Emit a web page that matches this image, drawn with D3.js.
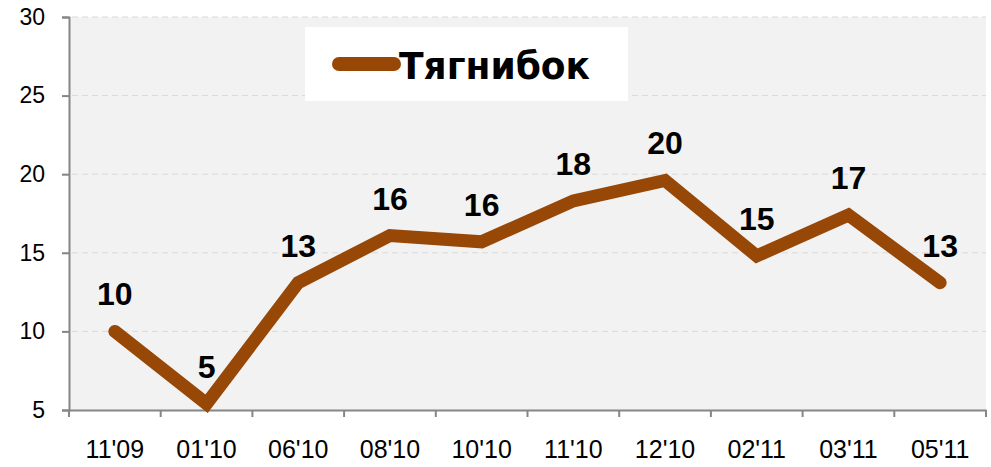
<!DOCTYPE html>
<html>
<head>
<meta charset="utf-8">
<script src="https://cdn.jsdelivr.net/npm/d3@7"></script>
<style>
  body { margin: 0; background: #fff; }
  svg { display: block; font-family: "Liberation Sans", Arial, sans-serif; }
</style>
</head>
<body>
<div id="chart"></div>
<script>
const categories = ["11'09", "01'10", "06'10", "08'10", "10'10", "11'10", "12'10", "02'11", "03'11", "05'11"];
const values = [10, 5.4, 13.1, 16.1, 15.7, 18.3, 19.6, 14.8, 17.4, 13.1];
const labels = ["10", "5", "13", "16", "16", "18", "20", "15", "17", "13"];
const yTicks = [5, 10, 15, 20, 25, 30];
const seriesName = "Тягнибок";

const width = 991, height = 467;
const plot = { left: 69, right: 986, top: 17, bottom: 410 };
const lineColor = "#974706";

const svg = d3.select("#chart").append("svg")
    .attr("width", width)
    .attr("height", height);

const x = d3.scaleBand().domain(categories).range([plot.left, plot.right]);
const y = d3.scaleLinear().domain([5, 30]).range([plot.bottom, plot.top]);

// plot background
svg.append("rect")
    .attr("x", plot.left).attr("y", plot.top)
    .attr("width", plot.right - plot.left).attr("height", plot.bottom - plot.top)
    .attr("fill", "#f2f2f2");

// gridlines
svg.append("g")
    .selectAll("line")
    .data(yTicks.filter(d => d > 5))
    .enter().append("line")
    .attr("x1", plot.left - 7).attr("x2", plot.right)
    .attr("y1", d => y(d)).attr("y2", d => y(d))
    .attr("stroke", "#d9d9d9")
    .attr("stroke-width", 1)
    .attr("stroke-dasharray", "6,4");

// y axis
const yAxis = svg.append("g")
    .attr("transform", `translate(${plot.left},0)`)
    .call(d3.axisLeft(y).tickValues(yTicks).tickSize(7).tickPadding(17));
yAxis.attr("font-size", 23).attr("font-family", "Liberation Sans, Arial, sans-serif");
yAxis.select(".domain").attr("stroke", "#868686").attr("stroke-width", 2);
yAxis.selectAll(".tick line").attr("stroke", "#868686").attr("stroke-width", 2);
yAxis.selectAll("text").attr("fill", "#000");

// x axis
const xAxis = svg.append("g")
    .attr("transform", `translate(0,${plot.bottom})`)
    .call(d3.axisBottom(x).tickSize(0).tickPadding(30));
xAxis.attr("font-size", 25).attr("font-family", "Liberation Sans, Arial, sans-serif");
xAxis.select(".domain").attr("stroke", "#868686").attr("stroke-width", 2);
xAxis.selectAll("text").attr("fill", "#000");
xAxis.selectAll(".sep")
    .data(categories.concat([null]))
    .enter().append("line")
    .attr("class", "sep")
    .attr("x1", (d, i) => plot.left + i * x.step())
    .attr("x2", (d, i) => plot.left + i * x.step())
    .attr("y1", 0).attr("y2", 7)
    .attr("stroke", "#868686").attr("stroke-width", 2);

// line
const line = d3.line()
    .x((d, i) => x(categories[i]) + x.bandwidth() / 2)
    .y(d => y(d));

svg.append("path")
    .datum(values)
    .attr("d", line)
    .attr("fill", "none")
    .attr("stroke", lineColor)
    .attr("stroke-width", 13)
    .attr("stroke-linecap", "round")
    .attr("stroke-linejoin", "miter")
    .attr("stroke-miterlimit", 3);

// data labels
svg.append("g")
    .selectAll("text")
    .data(values)
    .enter().append("text")
    .attr("x", (d, i) => x(categories[i]) + x.bandwidth() / 2)
    .attr("y", d => y(d) - 26)
    .attr("text-anchor", "middle")
    .attr("font-size", 32)
    .attr("font-weight", "bold")
    .attr("fill", "#000")
    .text((d, i) => labels[i]);

// legend
const legend = svg.append("g");
legend.append("rect")
    .attr("x", 305).attr("y", 27)
    .attr("width", 323).attr("height", 74)
    .attr("fill", "#fff");
legend.append("line")
    .attr("x1", 339).attr("x2", 394)
    .attr("y1", 64).attr("y2", 64)
    .attr("stroke", lineColor)
    .attr("stroke-width", 14)
    .attr("stroke-linecap", "round");
legend.append("text")
    .attr("x", 399).attr("y", 79)
    .attr("font-size", 38)
    .attr("font-weight", "bold")
    .attr("font-family", "DejaVu Sans Condensed, DejaVu Sans, sans-serif")
    .attr("textLength", 191)
    .attr("lengthAdjust", "spacingAndGlyphs")
    .attr("fill", "#000")
    .text(seriesName);
</script>
</body>
</html>
